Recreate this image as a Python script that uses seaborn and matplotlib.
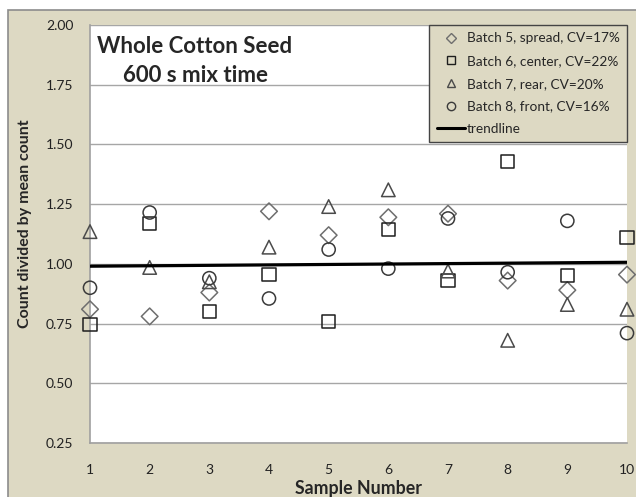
import numpy as np
import pandas as pd
import matplotlib
matplotlib.use("Agg")
import matplotlib.pyplot as plt
from matplotlib.lines import Line2D
from matplotlib.patches import Rectangle
import seaborn as sns

samples = [1, 2, 3, 4, 5, 6, 7, 8, 9, 10]
batch5 = [0.81, 0.78, 0.88, 1.22, 1.12, 1.195, 1.21, 0.93, 0.89, 0.955]
batch6 = [0.745, 1.17, 0.80, 0.955, 0.76, 1.145, 0.93, 1.43, 0.95, 1.11]
batch7 = [1.135, 0.985, 0.925, 1.07, 1.24, 1.31, 0.97, 0.68, 0.83, 0.81]
batch8 = [0.90, 1.215, 0.94, 0.855, 1.06, 0.98, 1.19, 0.965, 1.18, 0.71]
labels = ["Batch 5, spread, CV=17%", "Batch 6, center, CV=22%",
          "Batch 7, rear, CV=20%", "Batch 8, front, CV=16%"]
yticks = [0.25, 0.50, 0.75, 1.00, 1.25, 1.50, 1.75, 2.00]

markers = ["D", "s", "^", "o"]
sizes = [72, 90, 95, 90]
edges = ["#6e6e6e", "#1e1e1e", "#4a4a4a", "#3a3a3a"]
beige = "#ddd9c3"

sns.set_theme(style="white")
plt.rcParams["font.family"] = ["Lato", "DejaVu Sans"]

fig = plt.figure(figsize=(6.36, 4.97), dpi=100)
fig.patch.set_facecolor("white")
fig.patches.append(Rectangle((8 / 636, -0.01), 1.0, 1 - 10 / 497 + 0.01,
                             transform=fig.transFigure, facecolor=beige,
                             edgecolor="#8c8c8c", lw=1.2, zorder=-5))
ax = fig.add_axes([90 / 636, 1 - 443 / 497, (627 - 90) / 636, (443 - 25) / 497])
ax.set_facecolor("white")

df = pd.DataFrame({
    "sample": samples * 4,
    "value": batch5 + batch6 + batch7 + batch8,
    "batch": np.repeat(labels, len(samples)),
})

for lab, m, s, c in zip(labels, markers, sizes, edges):
    sub = df[df["batch"] == lab]
    sns.scatterplot(data=sub, x="sample", y="value", marker=m, s=s,
                    facecolor="none", edgecolor=c, linewidth=1.1,
                    ax=ax, zorder=3, clip_on=False, legend=False)

# linear trend through all points
sns.regplot(data=df, x="sample", y="value", scatter=False, ci=None,
            color="black", line_kws={"lw": 2.3, "zorder": 4}, ax=ax)

ax.set_xlim(1, 10)
ax.set_ylim(0.25, 2.00)
ax.set_xticks(samples)
ax.set_yticks(yticks)
ax.set_yticklabels([f"{t:.2f}" for t in yticks])
ax.yaxis.grid(True, color="#a6a6a6", lw=1.0)
ax.xaxis.grid(False)
for side in ["top", "right"]:
    ax.spines[side].set_visible(False)
for side in ["left", "bottom"]:
    ax.spines[side].set_color("#a0a0a0")
    ax.spines[side].set_linewidth(1.2)
ax.tick_params(axis="both", direction="out", length=5, width=1,
               color="#a0a0a0", labelsize=10, labelcolor="#222222", pad=7)
ax.tick_params(axis="x", pad=10)
ax.set_xlabel("Sample Number", fontsize=12.8, fontweight="bold")
ax.set_ylabel("Count divided by mean count", fontsize=11.5, fontweight="bold")
ax.xaxis.set_label_coords(0.5, -0.088)
ax.yaxis.set_label_coords(-0.108, 0.524)

ax.text(0.013, 0.933, "Whole Cotton Seed", transform=ax.transAxes,
        fontsize=16, fontweight="bold", va="baseline", ha="left")
ax.text(0.0615, 0.8636, "600 s mix time", transform=ax.transAxes,
        fontsize=16, fontweight="bold", va="baseline", ha="left")

handles = [Line2D([], [], ls="none", marker=m, mfc="none", mec=c, mew=1,
                  ms=6 if m != "D" else 5) for m, c in zip(markers, edges)]
handles.append(Line2D([], [], color="black", lw=2.2))
leg = ax.legend(handles, labels + ["trendline"], loc="upper right",
                bbox_to_anchor=(1.0, 1.0), fontsize=9.8, frameon=True,
                fancybox=False, handlelength=2.1, handletextpad=0.1,
                labelspacing=0.78, borderpad=0.55, borderaxespad=0.0)
leg.get_frame().set_facecolor(beige)
leg.get_frame().set_edgecolor("#444444")
leg.get_frame().set_alpha(1)
leg.set_zorder(6)

fig.savefig("out.png", dpi=100, facecolor=fig.get_facecolor())
